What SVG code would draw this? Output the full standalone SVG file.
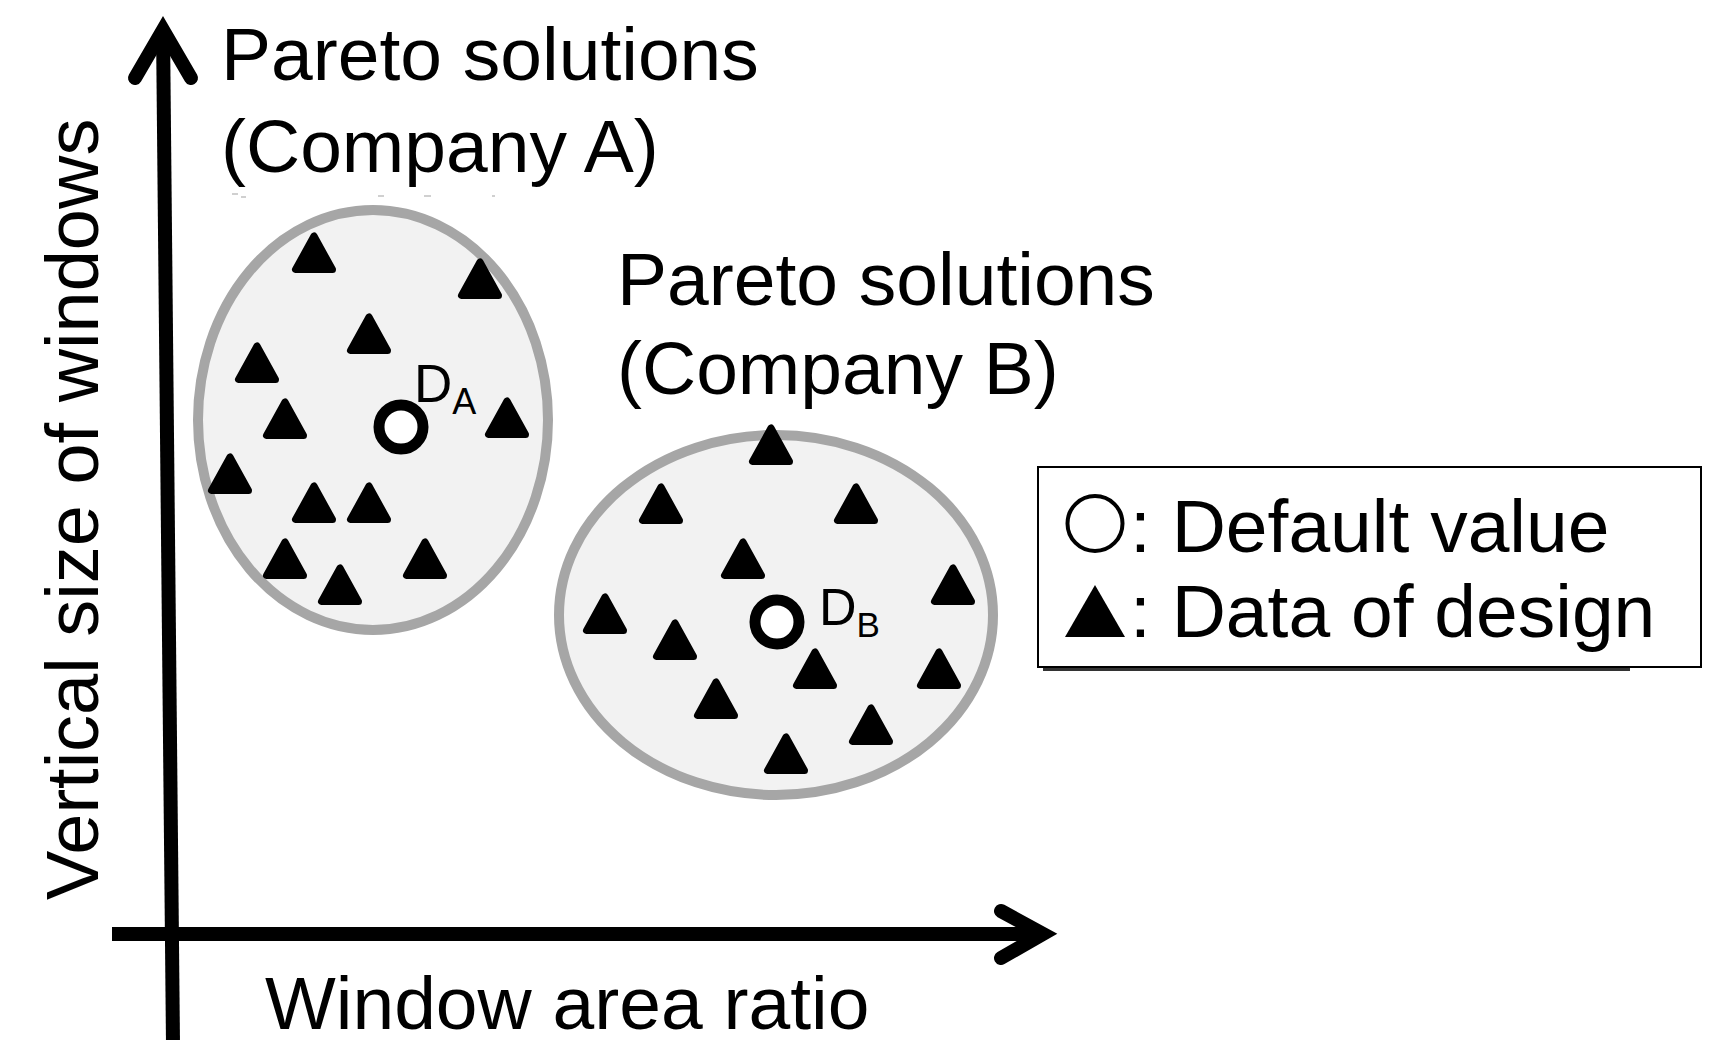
<svg xmlns="http://www.w3.org/2000/svg" xmlns:xlink="http://www.w3.org/1999/xlink" width="1721" height="1040" viewBox="0 0 1721 1040">
<style>
.t{font-family:"Liberation Sans",Arial,sans-serif;fill:#000}
.big{font-size:75px}
.ell{fill:#f2f2f2;stroke:#a6a6a6;stroke-width:10}
.axis{stroke:#000;stroke-width:14;fill:none}
.head{stroke:#000;stroke-width:14;fill:none;stroke-linecap:round;stroke-linejoin:miter;stroke-miterlimit:10}
.def{fill:#fff;stroke:#000;stroke-width:11}
.art{fill:#d0d0d0}
</style>
<defs>
<polygon id="tri" points="0,-37 -18.5,-3.5 18.5,-3.5" fill="#000" stroke="#000" stroke-width="7" stroke-linejoin="round"/>
</defs>
<rect width="1721" height="1040" fill="#fff"/>

<g id="artifacts">
<rect class="art" x="232" y="193" width="6" height="2"/>
<rect class="art" x="241" y="196" width="5" height="2"/>
<rect class="art" x="378" y="195" width="6" height="2"/>
<rect class="art" x="424" y="195" width="7" height="2"/>
<rect class="art" x="492" y="195" width="3" height="2"/>
</g>

<g id="clusterA">
<ellipse class="ell" cx="373" cy="420" rx="175" ry="210"/>
<use xlink:href="#tri" x="314" y="273"/>
<use xlink:href="#tri" x="480" y="299"/>
<use xlink:href="#tri" x="369" y="354"/>
<use xlink:href="#tri" x="257" y="383"/>
<use xlink:href="#tri" x="285" y="439"/>
<use xlink:href="#tri" x="507" y="438"/>
<use xlink:href="#tri" x="230" y="494"/>
<use xlink:href="#tri" x="314" y="523"/>
<use xlink:href="#tri" x="369" y="523"/>
<use xlink:href="#tri" x="285" y="579"/>
<use xlink:href="#tri" x="425" y="579"/>
<use xlink:href="#tri" x="340" y="605"/>
</g>

<g id="defaultA">
<circle class="def" cx="401" cy="427" r="22"/>
<text class="t" x="414" y="402" font-size="53">D<tspan font-size="36" dy="12">A</tspan></text>
</g>

<g id="clusterB">
<ellipse class="ell" cx="776" cy="615" rx="217" ry="180"/>
<use xlink:href="#tri" x="771" y="465"/>
<use xlink:href="#tri" x="661" y="524"/>
<use xlink:href="#tri" x="856" y="524"/>
<use xlink:href="#tri" x="743" y="579"/>
<use xlink:href="#tri" x="605" y="634"/>
<use xlink:href="#tri" x="953" y="605"/>
<use xlink:href="#tri" x="675" y="660"/>
<use xlink:href="#tri" x="815" y="689"/>
<use xlink:href="#tri" x="939" y="689"/>
<use xlink:href="#tri" x="716" y="719"/>
<use xlink:href="#tri" x="871" y="745"/>
<use xlink:href="#tri" x="786" y="774"/>
</g>

<g id="defaultB">
<circle class="def" cx="777" cy="622" r="22"/>
<text class="t" x="819" y="625" font-size="52">D<tspan font-size="35" dy="12">B</tspan></text>
</g>

<g id="labelA">
<text class="t big" x="221" y="80">Pareto solutions</text>
<text class="t big" x="221" y="172">(Company A)</text>
</g>

<g id="labelB">
<text class="t big" x="617" y="305">Pareto solutions</text>
<text class="t big" x="617" y="394">(Company B)</text>
</g>

<g id="legend">
<line x1="1043" y1="669.5" x2="1630" y2="669.5" stroke="#333" stroke-width="3"/>
<rect x="1038" y="467" width="663" height="200" fill="#fff" stroke="#000" stroke-width="2"/>
<circle cx="1095" cy="523.5" r="27.5" fill="none" stroke="#000" stroke-width="4"/>
<text class="t big" x="1130" y="552">: Default value</text>
<polygon points="1095,585 1065,637 1125,637" fill="#000"/>
<text class="t big" x="1130" y="637">: Data of design</text>
</g>

<g id="axes">
<line class="axis" x1="173" y1="1045" x2="163" y2="28"/>
<polyline class="head" points="135,78 163,30 191,78"/>
<line class="axis" x1="112" y1="934" x2="1040" y2="934"/>
<polyline class="head" points="1001,911 1043,934 1001,958"/>
</g>

<g id="axisLabels">
<text class="t" font-size="74" transform="translate(98,900) rotate(-90)">Vertical size of windows</text>
<text class="t big" x="265" y="1029">Window area ratio</text>
</g>
</svg>
